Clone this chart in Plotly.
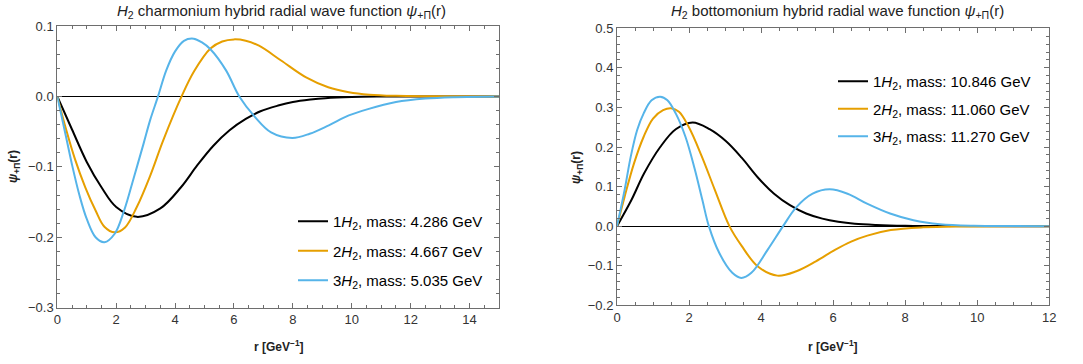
import plotly.graph_objects as go

# ---------------- data ----------------
# charmonium (left panel)
r_c1 = [0, 0.5, 1.0, 1.5, 2.0, 2.7, 3.5, 4.2, 4.75, 5.3, 5.85, 6.4, 6.9, 7.5, 8.0, 8.6, 9.1, 10, 11, 12, 15]
v_c1 = [0, -0.047, -0.093, -0.129, -0.157, -0.171, -0.159, -0.129, -0.098, -0.070, -0.048, -0.032,
        -0.021, -0.013, -0.008, -0.0045, -0.0025, -0.0008, -0.0002, 0, 0]

r_c2 = [0, 0.3, 0.6, 0.95, 1.3, 1.6, 1.95, 2.3, 2.7, 3.15, 3.6, 4.22, 4.65, 5.2, 5.6, 6.0, 6.4, 6.85,
        7.6, 8.45, 9.2, 9.9, 10.6, 11.5, 12.5, 15]
v_c2 = [0, -0.047, -0.089, -0.129, -0.162, -0.185, -0.193, -0.186, -0.157, -0.113, -0.062, 0, 0.036,
        0.068, 0.078, 0.081, 0.079, 0.072, 0.051, 0.027, 0.013, 0.006, 0.0025, 0.0008, 0.0002, 0]

r_c3 = [0, 0.3, 0.5, 0.75, 1.0, 1.3, 1.6, 1.95, 2.27, 2.6, 2.93, 3.15, 3.42, 3.7, 4.0, 4.3, 4.63, 4.9,
        5.2, 5.73, 6.18, 6.71, 7.26, 7.98, 8.57, 9.22, 9.9, 10.55, 11.5, 12.5, 13.5, 15]
v_c3 = [0, -0.058, -0.097, -0.140, -0.174, -0.200, -0.207, -0.195, -0.162, -0.115, -0.067, -0.034, 0,
        0.037, 0.064, 0.079, 0.082, 0.077, 0.067, 0.037, 0, -0.029, -0.051, -0.059, -0.053, -0.041,
        -0.027, -0.018, -0.008, -0.003, -0.001, 0]

# bottomonium (right panel)
r_b1 = [0, 0.4, 0.75, 1.2, 1.63, 2.1, 2.57, 3.02, 3.46, 3.91, 4.36, 4.8, 5.25, 5.7, 6.14, 6.6, 7.2, 8, 9, 12]
v_b1 = [0, 0.066, 0.133, 0.200, 0.245, 0.262, 0.245, 0.215, 0.173, 0.123, 0.082, 0.053, 0.032, 0.019,
        0.011, 0.006, 0.003, 0.001, 0.0002, 0]

r_b2 = [0, 0.21, 0.47, 0.74, 1.0, 1.28, 1.5, 1.72, 1.99, 2.35, 2.71, 3.12, 3.46, 3.91, 4.45, 4.98, 5.52,
        6.05, 6.5, 6.95, 7.6, 8.5, 9.5, 12]
v_b2 = [0, 0.074, 0.158, 0.226, 0.272, 0.293, 0.298, 0.289, 0.251, 0.177, 0.093, 0, -0.050, -0.102,
        -0.125, -0.114, -0.089, -0.060, -0.039, -0.024, -0.010, -0.003, -0.0006, 0]

r_b3 = [0, 0.21, 0.38, 0.56, 0.74, 0.96, 1.2, 1.4, 1.63, 1.9, 2.15, 2.37, 2.55, 2.84, 3.2, 3.45, 3.73,
        4.18, 4.61, 4.98, 5.43, 5.9, 6.4, 6.94, 7.58, 8.23, 8.97, 9.9, 11, 12]
v_b3 = [0, 0.091, 0.175, 0.243, 0.285, 0.318, 0.327, 0.318, 0.285, 0.226, 0.147, 0.066, 0, -0.068,
        -0.118, -0.131, -0.118, -0.060, 0, 0.048, 0.082, 0.093, 0.082, 0.057, 0.032, 0.015, 0.005,
        0.001, 0.0002, 0]

names_c = ["1<i>H</i><sub>2</sub>, mass: 4.286 GeV",
           "2<i>H</i><sub>2</sub>, mass: 4.667 GeV",
           "3<i>H</i><sub>2</sub>, mass: 5.035 GeV"]
names_b = ["1<i>H</i><sub>2</sub>, mass: 10.846 GeV",
           "2<i>H</i><sub>2</sub>, mass: 11.060 GeV",
           "3<i>H</i><sub>2</sub>, mass: 11.270 GeV"]
colors = ["#000000", "#E69F00", "#56B4E9"]

W, H = 1083, 364
FONT = "Liberation Sans, Arial, sans-serif"
FRAME = "#6e6e6e"

fig = go.Figure()

left = [(r_c1, v_c1), (r_c2, v_c2), (r_c3, v_c3)]
right = [(r_b1, v_b1), (r_b2, v_b2), (r_b3, v_b3)]
for i, (r, v) in enumerate(left):
    fig.add_trace(go.Scatter(x=r, y=v, mode="lines", name=names_c[i],
                             line=dict(color=colors[i], width=2, shape="spline", smoothing=1.0),
                             xaxis="x", yaxis="y", legend="legend", legendgroup=f"c{i}"))
for i, (r, v) in enumerate(right):
    fig.add_trace(go.Scatter(x=r, y=v, mode="lines", name=names_b[i],
                             line=dict(color=colors[i], width=2, shape="spline", smoothing=1.0),
                             xaxis="x2", yaxis="y2", legend="legend2", legendgroup=f"b{i}"))


def px_x(p):
    return p / W


def px_y(p):
    return 1 - p / H


common = dict(showgrid=False, showline=True, linecolor=FRAME, linewidth=1, mirror="allticks",
              ticks="inside", ticklen=5, tickcolor=FRAME, tickwidth=1, automargin=False,
              tickfont=dict(family=FONT, size=13, color="#333333"))

fig.update_layout(
    width=W, height=H, margin=dict(l=0, r=0, t=0, b=0, autoexpand=False),
    paper_bgcolor="white", plot_bgcolor="white",
    font=dict(family=FONT),
    xaxis=dict(domain=[px_x(57.3), px_x(499)], range=[0, 15], tickvals=list(range(0, 15, 2)),
               zeroline=False, anchor="y",
               minor=dict(dtick=0.5, ticks="inside", ticklen=3, tickcolor=FRAME, showgrid=False),
               **common),
    yaxis=dict(domain=[px_y(307.7), px_y(26)], range=[-0.3, 0.1], dtick=0.1, tickformat=".1f",
               zeroline=True, zerolinecolor="black", zerolinewidth=1, anchor="x",
               minor=dict(dtick=0.02, ticks="inside", ticklen=3, tickcolor=FRAME, showgrid=False),
               **common),
    xaxis2=dict(domain=[px_x(617), px_x(1049.3)], range=[0, 12], tickvals=list(range(0, 13, 2)),
                zeroline=False, anchor="y2",
                minor=dict(dtick=0.5, ticks="inside", ticklen=3, tickcolor=FRAME, showgrid=False),
                **common),
    yaxis2=dict(domain=[px_y(305.3), px_y(28.3)], range=[-0.2, 0.5], dtick=0.1, tickformat=".1f",
                zeroline=True, zerolinecolor="black", zerolinewidth=1, anchor="x2",
                minor=dict(dtick=0.02, ticks="inside", ticklen=3, tickcolor=FRAME, showgrid=False),
                **common),
    legend=dict(x=px_x(293), y=px_y(205), xanchor="left", yanchor="top",
                font=dict(family=FONT, size=15, color="black"), bgcolor="rgba(0,0,0,0)",
                tracegroupgap=7, itemwidth=30),
    legend2=dict(x=px_x(833), y=px_y(65), xanchor="left", yanchor="top",
                 font=dict(family=FONT, size=15, color="black"), bgcolor="rgba(0,0,0,0)",
                 tracegroupgap=5, itemwidth=30),
    showlegend=True,
)

annots = [
    dict(x=px_x(281), y=px_y(11),
         text="<i>H</i><sub>2</sub> charmonium hybrid radial wave function <i>ψ</i><sub>+Π</sub>(r)",
         font=dict(size=15, color="#222222")),
    dict(x=px_x(837), y=px_y(12),
         text="<i>H</i><sub>2</sub> bottomonium hybrid radial wave function <i>ψ</i><sub>+Π</sub>(r)",
         font=dict(size=15, color="#222222")),
    dict(x=px_x(279), y=px_y(346), text="<b>r [GeV<sup>−1</sup>]</b>",
         font=dict(size=12, color="#222222")),
    dict(x=px_x(833), y=px_y(346), text="<b>r [GeV<sup>−1</sup>]</b>",
         font=dict(size=12, color="#222222")),
    dict(x=px_x(14), y=px_y(167), text="<b><i>ψ</i><sub>+Π</sub>(r)</b>", textangle=-90,
         font=dict(size=12, color="#222222")),
    dict(x=px_x(577), y=px_y(168), text="<b><i>ψ</i><sub>+Π</sub>(r)</b>", textangle=-90,
         font=dict(size=12, color="#222222")),
]
for a in annots:
    fig.add_annotation(xref="paper", yref="paper", showarrow=False, xanchor="center",
                       yanchor="middle", **a)

fig.write_html("out.html", config={"displayModeBar": False},
               post_script="document.body.style.margin='0';")
